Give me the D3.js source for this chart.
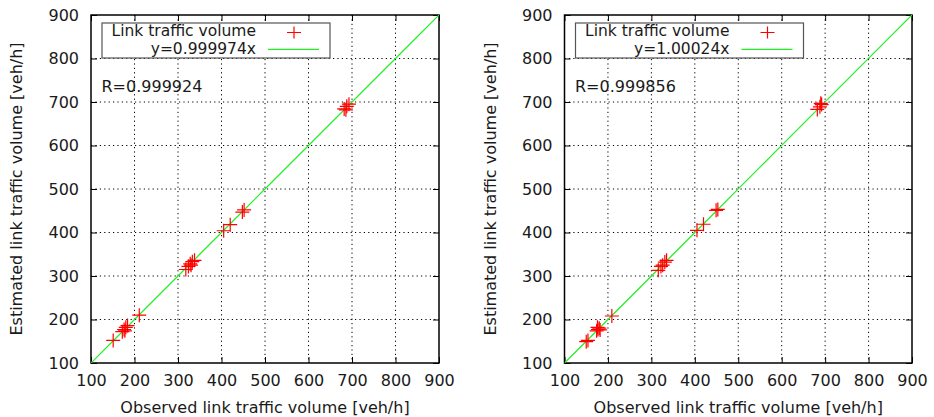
<!DOCTYPE html>
<html><head><meta charset="utf-8">
<script src="https://cdn.jsdelivr.net/npm/d3@7"></script>
<style>body{margin:0;background:#fff}text{font-family:"DejaVu Sans",sans-serif;fill:#1a1a1a}</style>
</head><body><svg id="c" width="934" height="417"></svg>
<script>
const ticks = [100,200,300,400,500,600,700,800,900];
const obsA = [151,172,176,180,184,178,211,318,324,328,333,338,330,405,420,448,452,682,688,693,686];
const estA = [152,172,177,182,186,174,210,315,322,328,333,336,325,404,418,447,452,684,690,695,682];
const obsB = [150,154,174,177,180,182,176,209,316,322,326,331,335,405,420,449,453,682,688,692,690];
const estB = [149,152,174,177,180,176,182,208,313,322,325,332,336,405,419,451,453,683,689,694,697];
const slopes = ["0.999974","1.00024"];
const slopeVals = [0.999974,1.00024];
const rTexts = ["R=0.999924","R=0.999856"];
const legendName = "Link traffic volume";
const xLabel = "Observed link traffic volume [veh/h]";
const yLabel = "Estimated link traffic volume [veh/h]";

const svg = d3.select("#c");
const panels = [
  {left:91, right:439, obs:obsA, est:estA},
  {left:564.5, right:912, obs:obsB, est:estB}
];
const pTop = 15, pBottom = 363;
const green = "#22ee22";
panels.forEach((p,i)=>{
  const g = svg.append("g");
  const x = d3.scaleLinear().domain([100,900]).range([p.left,p.right]);
  const y = d3.scaleLinear().domain([100,900]).range([pBottom,pTop]);
  // grid
  ticks.slice(1,-1).forEach(t=>{
    g.append("line").attr("x1",x(t)).attr("x2",x(t)).attr("y1",pTop).attr("y2",pBottom)
      .attr("stroke","#000").attr("stroke-width",1).attr("stroke-dasharray","1.2,3.2");
    g.append("line").attr("x1",p.left).attr("x2",p.right).attr("y1",y(t)).attr("y2",y(t))
      .attr("stroke","#000").attr("stroke-width",1).attr("stroke-dasharray","1.2,3.2");
  });
  // axes
  const ax = (gen, tr)=>g.append("g").attr("transform",tr).call(gen);
  const xb = ax(d3.axisBottom(x).tickValues(ticks).tickSize(-6).tickFormat(d3.format("d")),`translate(0,${pBottom})`);
  const xt = ax(d3.axisTop(x).tickValues(ticks).tickSize(-6).tickFormat(""),`translate(0,${pTop})`);
  const yl = ax(d3.axisLeft(y).tickValues(ticks).tickSize(-6).tickPadding(12).tickFormat(d3.format("d")),`translate(${p.left},0)`);
  const yr = ax(d3.axisRight(y).tickValues(ticks).tickSize(-6).tickFormat(""),`translate(${p.right},0)`);
  [xb,xt,yl,yr].forEach(a=>{a.select(".domain").remove(); a.selectAll("line").attr("stroke","#000");
    a.selectAll("text").attr("font-size",16).attr("fill","#1a1a1a").attr("font-family",'"DejaVu Sans",sans-serif');});
  xb.selectAll("text").attr("y",23).attr("dy",0);
  g.append("rect").attr("x",p.left).attr("y",pTop).attr("width",p.right-p.left).attr("height",pBottom-pTop)
    .attr("fill","none").attr("stroke","#000").attr("stroke-width",1.5);
  // fit line
  const clip = "clip"+i;
  svg.append("clipPath").attr("id",clip).append("rect").attr("x",p.left).attr("y",pTop).attr("width",p.right-p.left).attr("height",pBottom-pTop);
  const xs = d3.range(100,901,50);
  g.append("path").attr("clip-path",`url(#${clip})`).datum(xs).attr("fill","none").attr("stroke",green).attr("stroke-width",1.2)
    .attr("d",d3.line().x(d=>x(d)).y(d=>y(d*slopeVals[i])));
  // points
  const s = 7;
  g.selectAll(".pt").data(p.obs.map((o,k)=>[o,p.est[k]])).join("path").attr("class","pt")
    .attr("d",d=>`M${x(d[0])-s},${y(d[1])}h${2*s}M${x(d[0])},${y(d[1])-s}v${2*s}`)
    .attr("stroke","#f00").attr("stroke-width",1.2).attr("fill","none");
  // legend
  const lx = p.left+11;
  g.append("rect").attr("x",lx).attr("y",23).attr("width",228).attr("height",35).attr("fill","#fff").attr("stroke","#555").attr("stroke-width",1.2);
  g.append("text").attr("x",lx+154).attr("y",36).attr("text-anchor","end").attr("font-size",15.5).text(legendName);
  g.append("text").attr("x",lx+154).attr("y",54).attr("text-anchor","end").attr("font-size",15.5).text("y="+slopes[i]+"x");
  g.append("path").attr("d",`M${lx+185},32.5h14M${lx+192},26.5v12`).attr("stroke","#f00").attr("stroke-width",1.2);
  g.append("line").attr("x1",lx+166).attr("x2",lx+217).attr("y1",49.3).attr("y2",49.3).attr("stroke",green).attr("stroke-width",1.2);
  g.append("text").attr("x",lx-0.5).attr("y",91.5).attr("font-size",16).text(rTexts[i]);
  // axis labels
  g.append("text").attr("x",(p.left+p.right)/2).attr("y",413).attr("text-anchor","middle").attr("font-size",16).text(xLabel);
  g.append("text").attr("transform",`translate(${p.left-69},${(pTop+pBottom)/2}) rotate(-90)`).attr("text-anchor","middle").attr("font-size",16).text(yLabel);
});
</script></body></html>
